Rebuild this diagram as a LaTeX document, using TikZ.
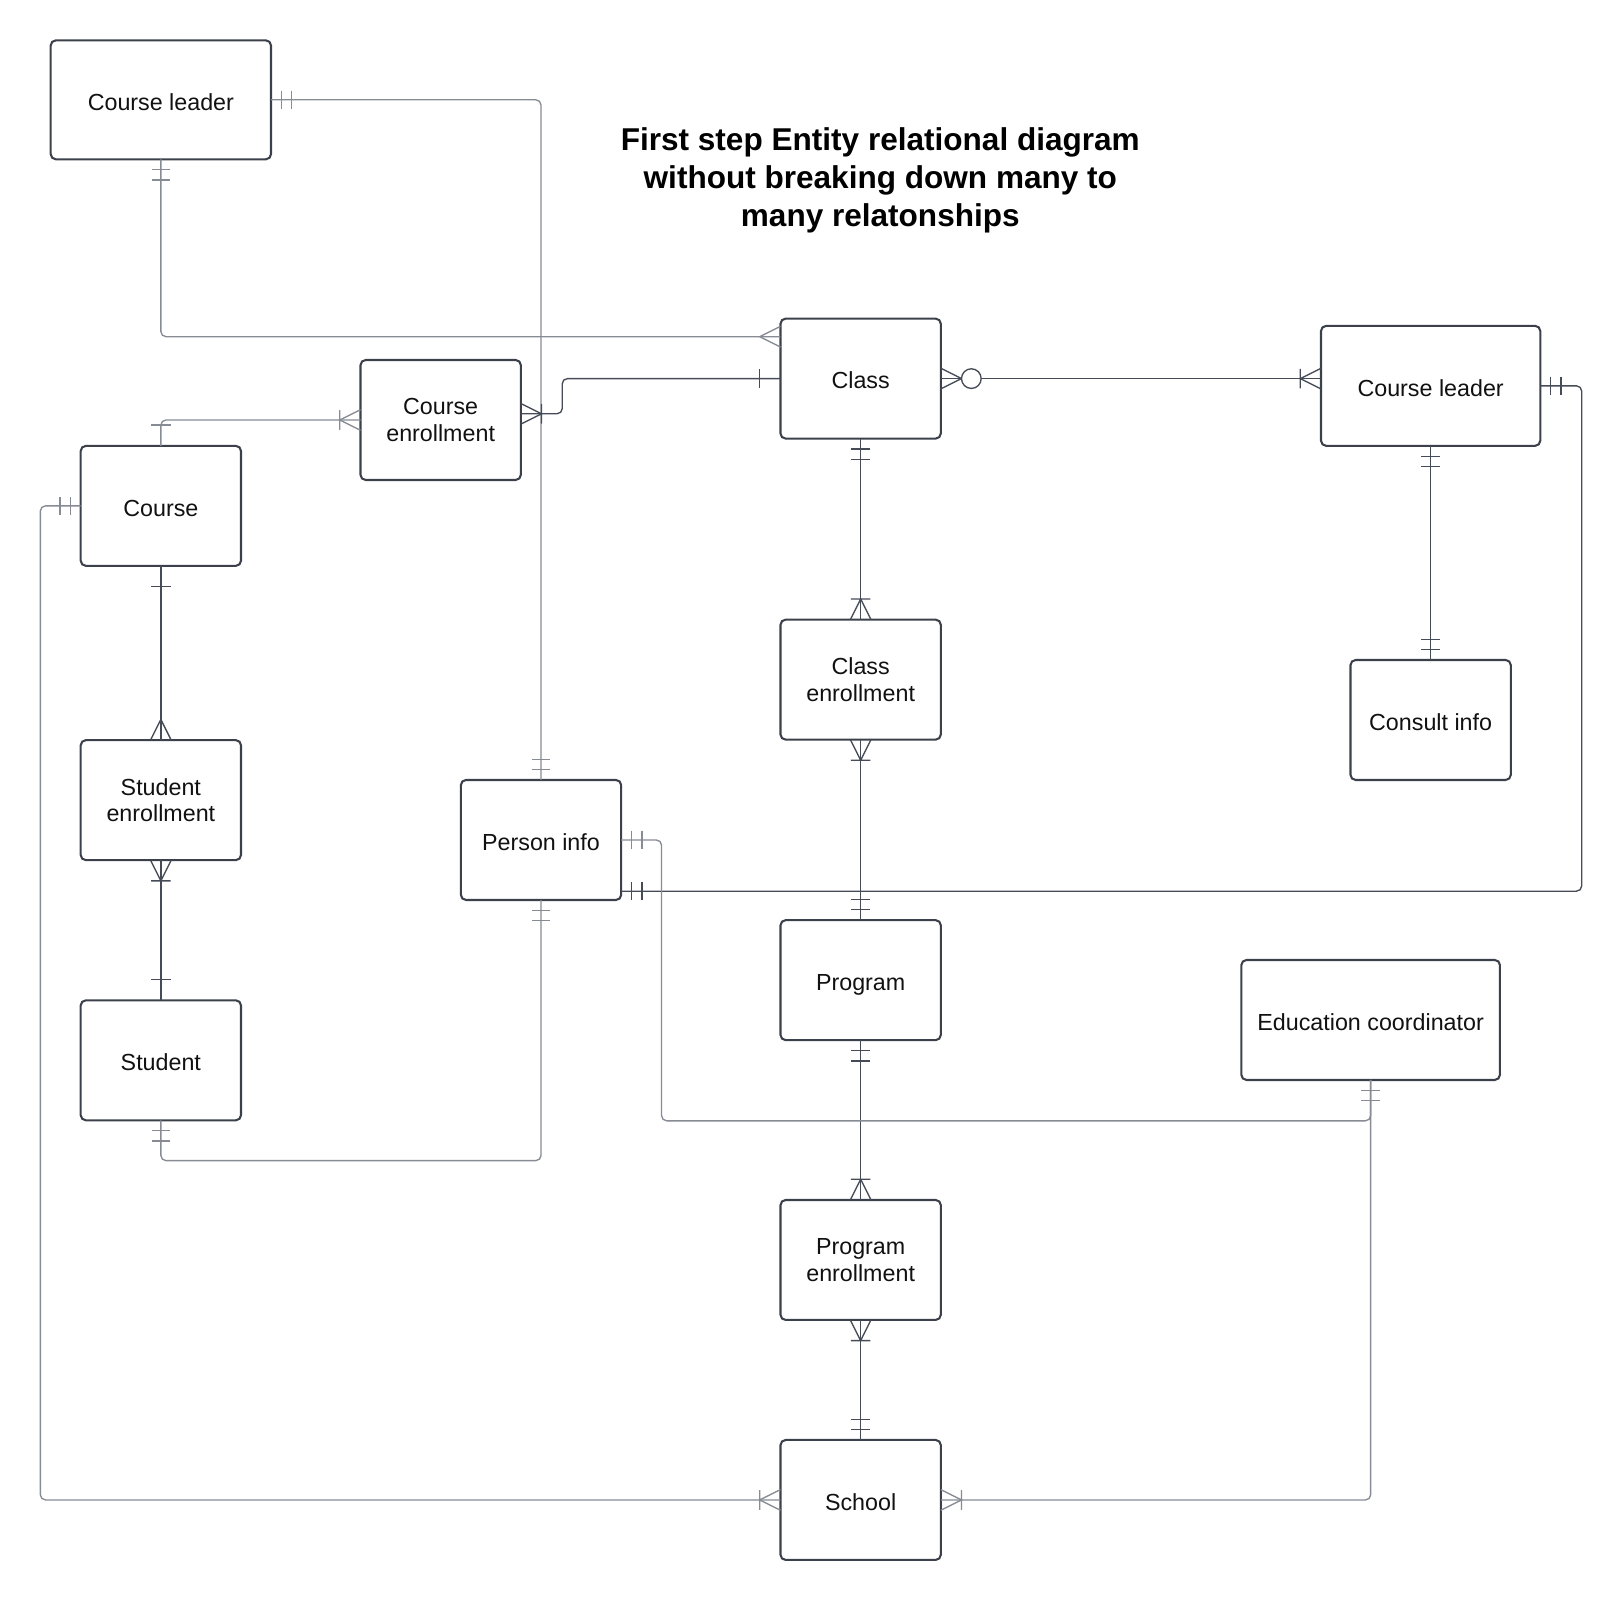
\documentclass[tikz,border=0pt]{standalone}
\usepackage{fontspec}
\setmainfont{Liberation Sans}
\usetikzlibrary{calc}
\definecolor{boxline}{HTML}{3B404B}
\definecolor{linkdark}{HTML}{464C57}
\definecolor{linkgray}{HTML}{868B94}
\definecolor{ink}{HTML}{111111}
\begin{document}
\begin{tikzpicture}[x=1pt,y=-1pt,
  entity/.style={draw=boxline, line width=2pt, rounded corners=5pt,
    minimum width=155pt, minimum height=116pt, align=center,
    inner sep=0pt, outer sep=0pt, text=ink,
    font=\fontsize{22.5}{26}\selectfont},
  oneline/.style={text height=22pt, text depth=2pt},
  twoline/.style={text height=17.5pt, text depth=28.5pt},
  link/.style={line width=1.3pt, rounded corners=5pt},
  erm/.style={line width=1.3pt},
  pics/onemand/.style={code={\draw (10,-9)--(10,9) (20,-9)--(20,9);}},
  pics/onebar/.style={code={\draw (20,-9.5)--(20,9.5);}},
  pics/many/.style={code={\draw (0,-10)--(20,0)--(0,10);}},
  pics/onemany/.style={code={\draw (0,-10)--(20,0)--(0,10) (20,-9.5)--(20,9.5);}},
  pics/zeromany/.style={code={\draw (0,-10)--(20,0)--(0,10);
    \draw[fill=white] (29.5,0) circle[radius=9.5];}},
]
\useasboundingbox (0,0) rectangle (1568,1547);

% title
\node[align=center, text=black, font=\bfseries\fontsize{30.5}{36.5}\selectfont]
  (title) at (851,174.5) {First step Entity relational diagram\\without breaking down many to\\many relatonships};

% entities
\node[entity, oneline, minimum width=213pt, minimum height=115pt] (cl1) at (155.5,96.5) {Course leader};
\node[entity, oneline] (cls)  at (832,366)    {Class};
\node[entity, oneline, minimum width=212pt] (cl2) at (1383,373) {Course leader};
\node[entity] (ce)   at (426,406)    {Course\\enrollment};
\node[entity, oneline] (course) at (155.5,489) {Course};
\node[entity] (clse) at (832,657)    {Class\\enrollment};
\node[entity, oneline] (cons) at (1383,696)   {Consult info};
\node[entity] (se)   at (155.5,773.5) {Student\\enrollment};
\node[entity, oneline] (pi)   at (523,812)    {Person info};
\node[entity, oneline] (prog) at (832,947.5)  {Program};
\node[entity, oneline, minimum width=250pt] (edu) at (1325,986) {Education coordinator};
\node[entity, oneline] (stu)  at (155.5,1025) {Student};
\node[entity] (pe)   at (832,1218)   {Program\\enrollment};
\node[entity, oneline] (sch)  at (832,1450)   {School};

% connectors
\draw[link, linkgray] (cl1.east) -| (pi.north);
\draw[link, linkgray] (cl1.south) |- ($(cls.west)+(0,-40.5)$);
\draw[link, linkdark] ($(ce.east)+(0,-6)$) -- ++(40,0) |- (cls.west);
\draw[link, linkgray] (course.north) |- (ce.west);
\draw[link, linkdark] (cls.east) -- ($(cl2.west)+(0,-7)$);
\draw[link, linkdark] (cl2.east) -- ++(40,0) |- ($(pi.east)+(0,49.5)$);
\draw[link, linkdark] (cls.south) -- (clse.north);
\draw[link, linkdark] (clse.south) -- (prog.north);
\draw[link, linkdark] (prog.south) -- (pe.north);
\draw[link, linkdark] (pe.south) -- (sch.north);
\draw[link, linkdark] (cl2.south) -- (cons.north);
\draw[link, linkdark] (course.south) -- (se.north);
\draw[link, linkdark] (se.south) -- (stu.north);
\draw[link, linkgray] (stu.south) -- ++(0,39) -| (pi.south);
\draw[link, linkgray] (pi.east) -- ++(39,0) |- ($(edu.south)+(0,39.5)$) -- (edu.south);
\draw[link, linkgray] (course.west) -- ++(-39,0) |- (sch.west);
\draw[link, linkgray] (sch.east) -| (edu.south);

% relationship ends
\pic[erm, linkgray] at (cl1.east) {onemand};
\pic[erm, linkgray, rotate=90] at (pi.north) {onemand};
\pic[erm, linkgray, rotate=-90] at (cl1.south) {onemand};
\pic[erm, linkgray, rotate=180] at ($(cls.west)+(0,-40.5)$) {many};
\pic[erm, linkdark] at ($(ce.east)+(0,-6)$) {onemany};
\pic[erm, linkdark, rotate=180] at (cls.west) {onebar};
\pic[erm, linkgray, rotate=90] at (course.north) {onebar};
\pic[erm, linkgray, rotate=180] at (ce.west) {onemany};
\pic[erm, linkdark] at (cls.east) {zeromany};
\pic[erm, linkdark, rotate=180] at ($(cl2.west)+(0,-7)$) {onemany};
\pic[erm, linkdark] at (cl2.east) {onemand};
\pic[erm, linkdark] at ($(pi.east)+(0,49.5)$) {onemand};
\pic[erm, linkdark, rotate=-90] at (cls.south) {onemand};
\pic[erm, linkdark, rotate=90] at (clse.north) {onemany};
\pic[erm, linkdark, rotate=-90] at (clse.south) {onemany};
\pic[erm, linkdark, rotate=90] at (prog.north) {onemand};
\pic[erm, linkdark, rotate=-90] at (prog.south) {onemand};
\pic[erm, linkdark, rotate=90] at (pe.north) {onemany};
\pic[erm, linkdark, rotate=-90] at (pe.south) {onemany};
\pic[erm, linkdark, rotate=90] at (sch.north) {onemand};
\pic[erm, linkdark, rotate=-90] at (cl2.south) {onemand};
\pic[erm, linkdark, rotate=90] at (cons.north) {onemand};
\pic[erm, linkdark, rotate=-90] at (course.south) {onebar};
\pic[erm, linkdark, rotate=90] at (se.north) {many};
\pic[erm, linkdark, rotate=-90] at (se.south) {onemany};
\pic[erm, linkdark, rotate=90] at (stu.north) {onebar};
\pic[erm, linkgray, rotate=-90] at (stu.south) {onemand};
\pic[erm, linkgray, rotate=-90] at (pi.south) {onemand};
\pic[erm, linkgray] at (pi.east) {onemand};
\pic[erm, linkgray, rotate=-90] at (edu.south) {onemand};
\pic[erm, linkgray, rotate=180] at (course.west) {onemand};
\pic[erm, linkgray, rotate=180] at (sch.west) {onemany};
\pic[erm, linkgray] at (sch.east) {onemany};
\end{tikzpicture}
\end{document}
